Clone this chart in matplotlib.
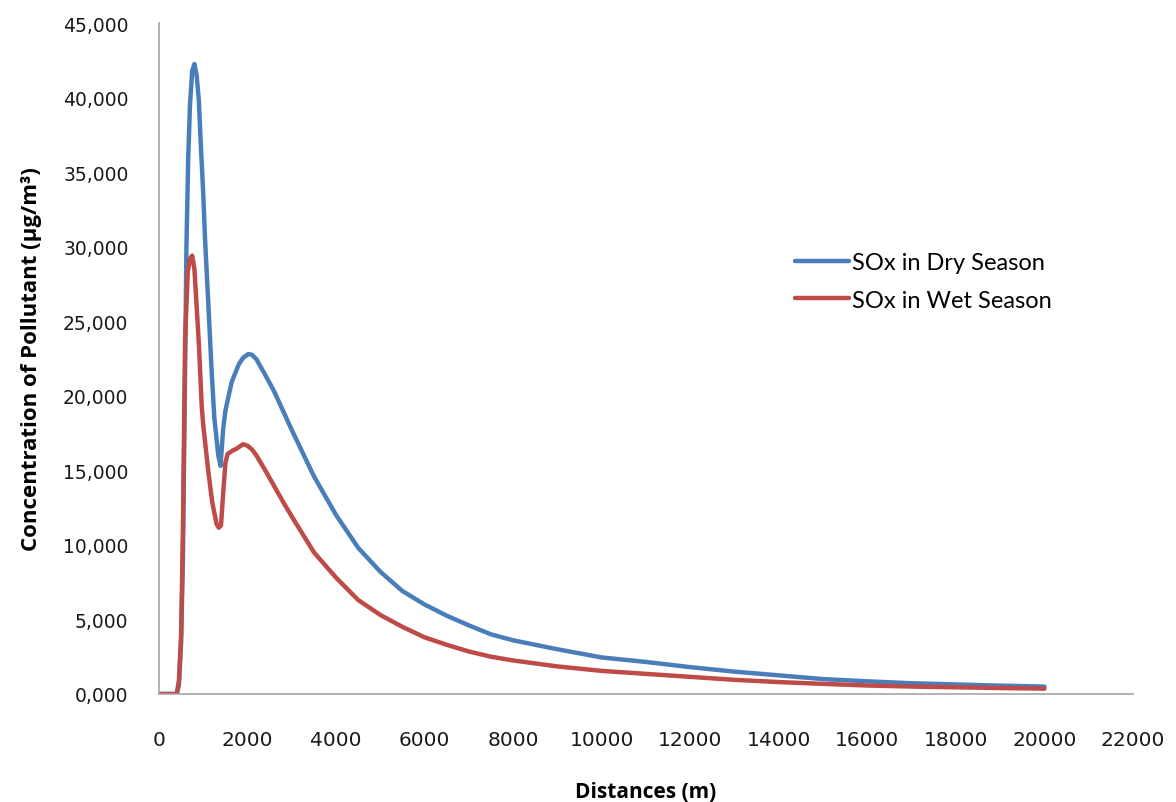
import numpy as np
import matplotlib.pyplot as plt
from matplotlib.ticker import FuncFormatter, MultipleLocator

# distances (m)
dist_dry = [0, 400, 450, 500, 540, 590, 620, 660, 700, 750, 800, 850, 900, 950,
            1000, 1040, 1100, 1190, 1250, 1340, 1390, 1450, 1500, 1640, 1800,
            1900, 2020, 2100, 2200, 2400, 2600, 2800, 3000, 3500, 4000, 4500,
            5000, 5500, 6000, 6500, 7000, 7500, 8000, 9000, 10000, 11000,
            12000, 13000, 14000, 15000, 16000, 17000, 18000, 19000, 20000]

# SOx concentration, dry season (ug/m3)
sox_dry = [0, 0, 600, 3500, 9000, 22000, 30000, 36000, 39500, 41800, 42250,
           41500, 39800, 36500, 33500, 30500, 27000, 21600, 18500, 16000,
           15300, 17800, 19000, 20900, 22100, 22550, 22800, 22750, 22450,
           21400, 20300, 19000, 17700, 14600, 12000, 9800, 8200, 6900, 6000,
           5250, 4600, 4000, 3600, 3000, 2450, 2150, 1800, 1500, 1250, 1000,
           850, 720, 640, 560, 500]

dist_wet = [0, 400, 450, 500, 540, 590, 650, 700, 750, 800, 850, 900, 965,
            1000, 1115, 1200, 1300, 1350, 1400, 1450, 1500, 1550, 1650, 1750,
            1900, 2000, 2100, 2200, 2400, 2600, 2800, 3000, 3500, 4000, 4500,
            5000, 5500, 6000, 6500, 7000, 7500, 8000, 9000, 10000, 11000,
            12000, 13000, 14000, 15000, 16000, 17000, 18000, 19000, 20000]

# SOx concentration, wet season (ug/m3)
sox_wet = [0, 0, 900, 4000, 11000, 23800, 28300, 29200, 29400, 28500, 26000,
           23500, 19300, 18000, 14900, 12900, 11400, 11150, 11300, 13500,
           15500, 16100, 16300, 16450, 16750, 16650, 16400, 16000, 15000,
           13950, 12900, 11900, 9500, 7800, 6300, 5300, 4500, 3800, 3300,
           2850, 2500, 2250, 1850, 1550, 1350, 1150, 950, 800, 680, 570, 500,
           450, 400, 360]

fig = plt.figure(figsize=(11.76, 8.03), dpi=100)
ax = fig.add_axes([159 / 1176, 1 - 695 / 803, (1133 - 159) / 1176, (695 - 24) / 803])

ax.plot(dist_dry, sox_dry, color='#4A7EBB', lw=3.2, label='SOx in Dry Season',
        solid_capstyle='round', solid_joinstyle='round')
ax.plot(dist_wet, sox_wet, color='#BE4B48', lw=3.2, label='SOx in Wet Season',
        solid_capstyle='round', solid_joinstyle='round')

ax.set_xlim(0, 22000)
ax.set_ylim(0, 45000)
ax.xaxis.set_major_locator(MultipleLocator(2000))
ax.yaxis.set_major_locator(MultipleLocator(5000))
ax.yaxis.set_major_formatter(FuncFormatter(lambda v, p: '{},{:03d}'.format(int(v // 1000), int(v % 1000))))

for s in ['top', 'right']:
    ax.spines[s].set_visible(False)
for s in ['left', 'bottom']:
    ax.spines[s].set_color('#A6A6A6')
    ax.spines[s].set_linewidth(1.2)

ax.tick_params(axis='both', length=0, labelcolor='#1a1a1a')
ax.tick_params(axis='x', pad=26, labelsize=14.5)
ax.tick_params(axis='y', pad=22, labelsize=13.5)

ax.set_xlabel('Distances (m)', fontsize=15, fontweight='bold', family='Open Sans',
              labelpad=23)
ax.set_ylabel('Concentration of Pollutant (µg/m³)', fontsize=16, fontweight='bold',
              family='Open Sans', labelpad=15)

ax.legend(frameon=False, loc='upper left', bbox_to_anchor=(795 / 1176, 1 - 253 / 803),
          bbox_transform=fig.transFigure, prop={'family': 'Lato', 'size': 17},
          handlelength=2.3, handletextpad=0.1, labelspacing=0.7,
          borderpad=0, borderaxespad=0)

fig.savefig('out.png', dpi=100, facecolor='white')
